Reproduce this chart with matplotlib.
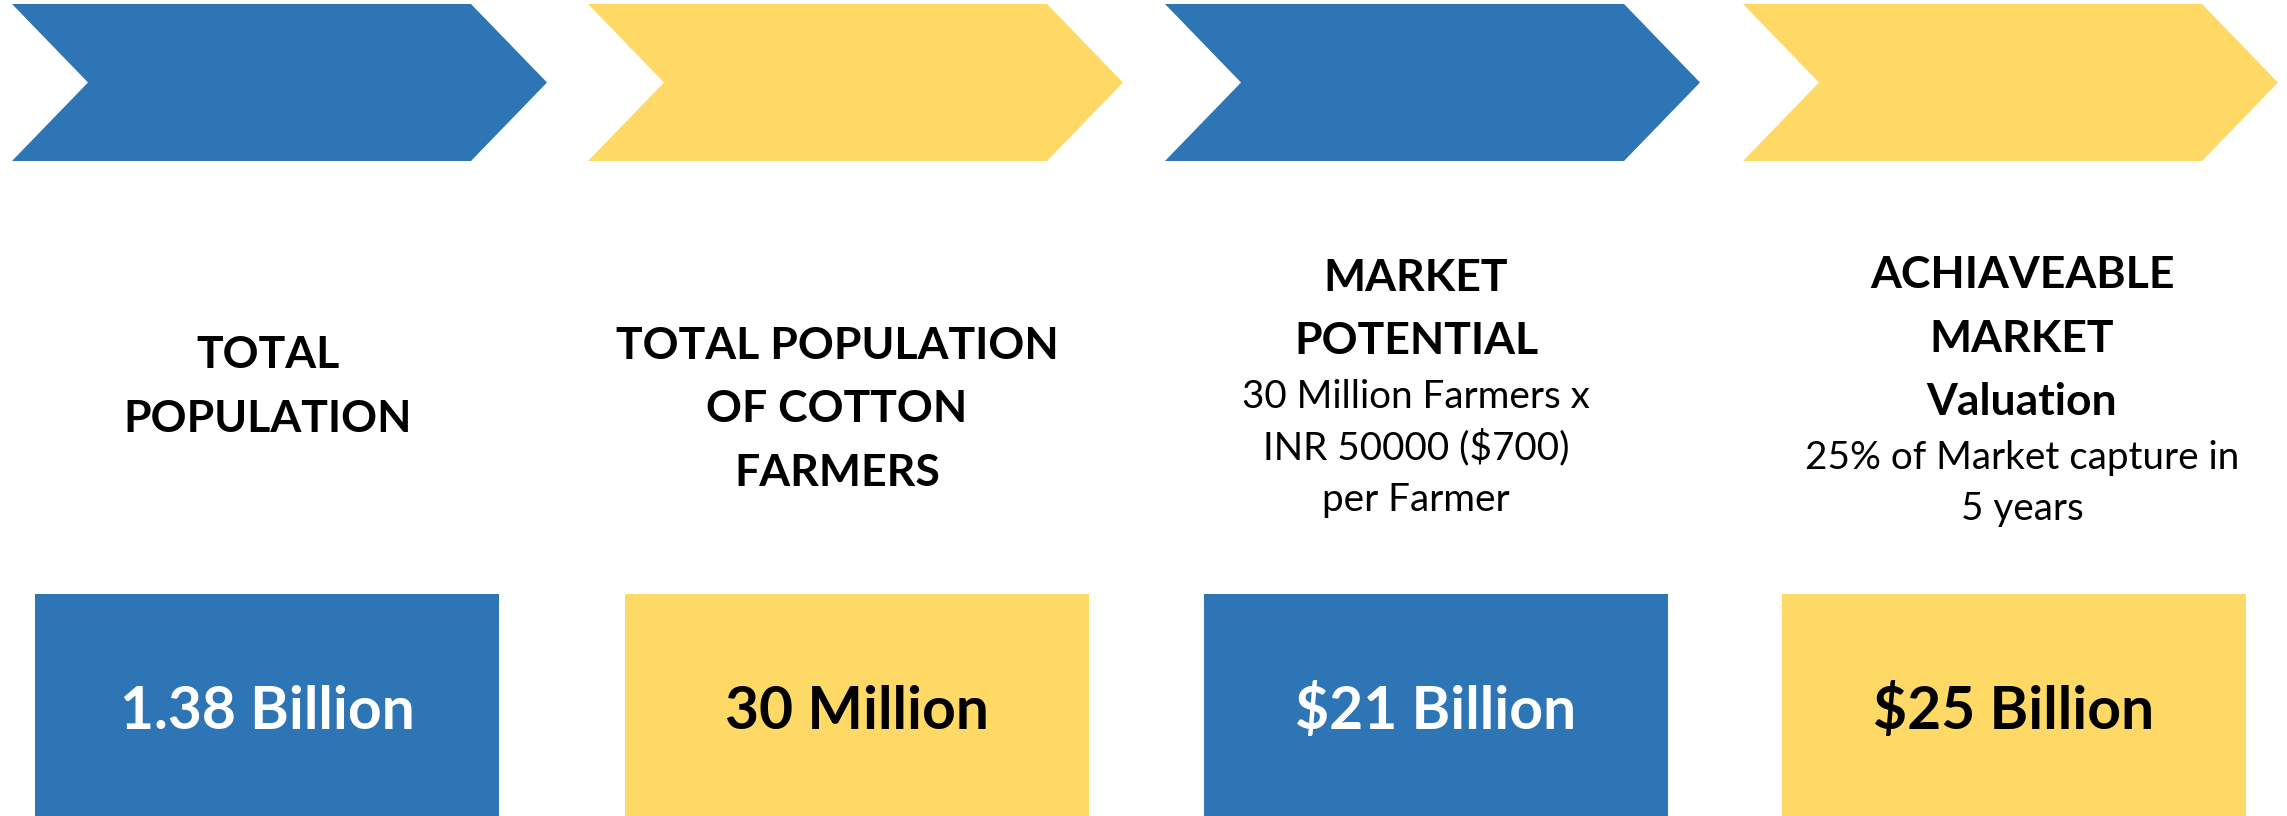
import matplotlib
matplotlib.use("Agg")
from matplotlib import pyplot as plt
from matplotlib.patches import Polygon, Rectangle

# steps of the market funnel
values = ["1.38 Billion", "30 Million", "$21 Billion", "$25 Billion"]
titles = [["TOTAL", "POPULATION"],
          ["TOTAL POPULATION", "OF COTTON", "FARMERS"],
          ["MARKET", "POTENTIAL"],
          ["ACHIAVEABLE", "MARKET", "Valuation"]]
notes = [[],
         [],
         ["30 Million Farmers x", "INR 50000 ($700)", "per Farmer"],
         ["25% of Market capture in", "5 years"]]

blue = "#2E75B6"
yellow = "#FFD966"
fills = [blue, yellow, blue, yellow]
value_colors = ["white", "black", "white", "black"]

W, H = 2287, 816
fig = plt.figure(figsize=(W / 100, H / 100), dpi=100)
ax = fig.add_axes([0, 0, 1, 1])
ax.set_xlim(0, W)
ax.set_ylim(H, 0)
ax.axis("off")

# layout (pixels)
chev_left = [12, 588, 1165, 1743]
chev_w, chev_notch, chev_top, chev_bot = 459, 76, 4, 161
box_left = [35, 625, 1204, 1782]
box_w, box_top = 464, 594
text_cx = [268, 837, 1416, 2022]
first_base = [368, 359, 291, 288]

for i in range(4):
    x0 = chev_left[i]
    mid = (chev_top + chev_bot) / 2
    pts = [(x0, chev_top), (x0 + chev_w, chev_top), (x0 + chev_w + chev_notch, mid),
           (x0 + chev_w, chev_bot), (x0, chev_bot), (x0 + chev_notch, mid)]
    ax.add_patch(Polygon(pts, closed=True, facecolor=fills[i], edgecolor="none"))

    ax.add_patch(Rectangle((box_left[i], box_top), box_w, H - box_top,
                           facecolor=fills[i], edgecolor="none"))
    ax.text(box_left[i] + box_w / 2, 729, values[i], color=value_colors[i],
            fontsize=42.3, fontweight="bold", family="Lato",
            ha="center", va="baseline")

    y = first_base[i]
    for line in titles[i]:
        ax.text(text_cx[i], y, line, fontsize=32, fontweight="bold", family="Lato",
                ha="center", va="baseline", color="black")
        y += 63.5
    y += 54 - 63.5
    for line in notes[i]:
        ax.text(text_cx[i], y, line, fontsize=27.8, family="Lato",
                ha="center", va="baseline", color="black")
        y += 51

fig.savefig("out.png", dpi=100)
